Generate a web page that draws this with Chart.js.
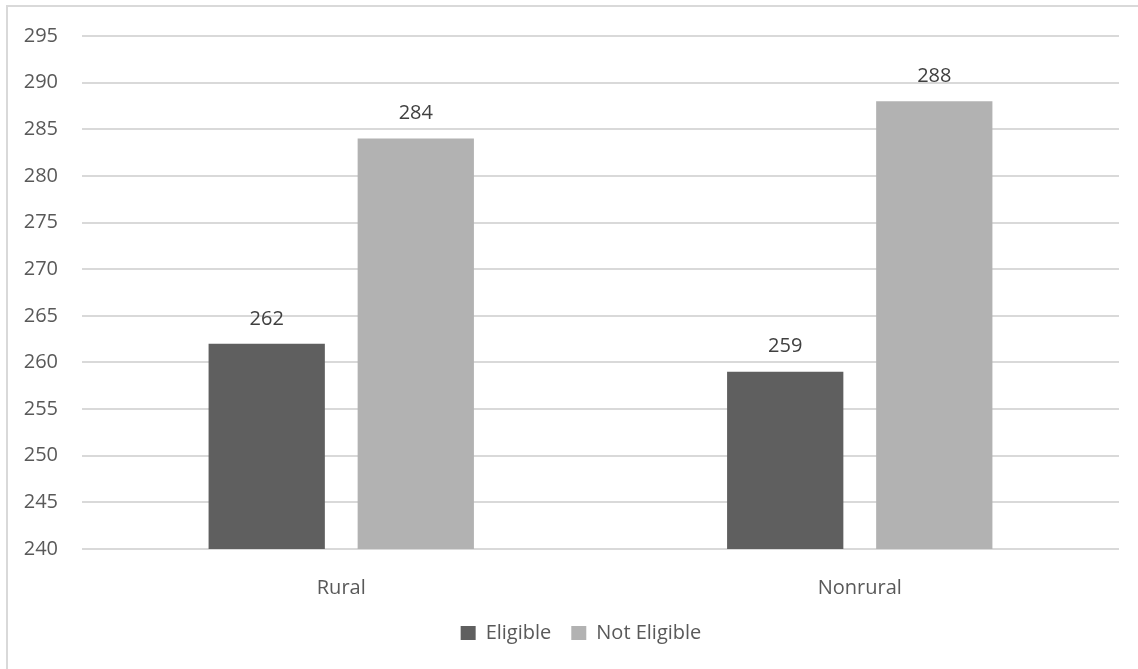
<!DOCTYPE html>
<html>
<head>
<meta charset="utf-8">
<script src="https://cdn.jsdelivr.net/npm/chart.js@4/dist/chart.umd.min.js"></script>
<style>
  html, body { margin: 0; padding: 0; background: #ffffff; }
  #wrap { width: 1138px; height: 669px; position: relative; }
</style>
</head>
<body>
<div id="wrap"><canvas id="chart" width="1138" height="669"></canvas></div>
<script>
// Categories and series values
const categories = ['Rural', 'Nonrural'];
const eligible = [262, 259];
const notEligible = [284, 288];
const seriesNames = ['Eligible', 'Not Eligible'];

// Y axis range
const yMin = 240;
const yMax = 295;
const yStep = 5;

const FONT = '"Open Sans", "Liberation Sans", sans-serif';
const FONT_SIZE = 20;

// Light frame around the chart area (left and top edges)
const framePlugin = {
  id: 'frame',
  beforeDraw(chart) {
    const ctx = chart.ctx;
    ctx.save();
    ctx.fillStyle = '#ffffff';
    ctx.fillRect(0, 0, chart.width, chart.height);
    ctx.strokeStyle = '#d9d9d9';
    ctx.lineWidth = 2;
    ctx.beginPath();
    ctx.moveTo(7, chart.height);
    ctx.lineTo(7, 6);
    ctx.lineTo(chart.width, 6);
    ctx.stroke();
    ctx.restore();
  }
};

// Center the legend under the plot area rather than the whole canvas
const legendShift = {
  id: 'legendShift',
  afterLayout(chart) {
    if (chart.legend) {
      chart.legend.left = chart.chartArea.left - 39;
    }
  }
};

// Value labels above each bar
const valueLabels = {
  id: 'valueLabels',
  afterDatasetsDraw(chart) {
    const ctx = chart.ctx;
    ctx.save();
    ctx.font = FONT_SIZE + 'px ' + FONT;
    ctx.fillStyle = '#404040';
    ctx.textAlign = 'center';
    ctx.textBaseline = 'middle';
    chart.data.datasets.forEach((ds, di) => {
      const meta = chart.getDatasetMeta(di);
      meta.data.forEach((bar, i) => {
        ctx.fillText(String(ds.data[i]), bar.x, bar.y - 25);
      });
    });
    ctx.restore();
  }
};

new Chart(document.getElementById('chart'), {
  type: 'bar',
  data: {
    labels: categories,
    datasets: [
      {
        label: seriesNames[0],
        data: eligible,
        backgroundColor: '#5f5f5f',
        categoryPercentage: 0.575,
        barPercentage: 0.78
      },
      {
        label: seriesNames[1],
        data: notEligible,
        backgroundColor: '#b2b2b2',
        categoryPercentage: 0.575,
        barPercentage: 0.78
      }
    ]
  },
  options: {
    responsive: false,
    animation: false,
    devicePixelRatio: 1,
    layout: { padding: { left: 0, right: 19, top: 34, bottom: 16 } },
    plugins: {
      legend: {
        position: 'bottom',
        labels: {
          font: { size: FONT_SIZE, family: FONT },
          color: '#595959',
          boxWidth: 15,
          boxHeight: 14,
          padding: 20
        }
      },
      tooltip: { enabled: false }
    },
    scales: {
      x: {
        grid: { display: false, drawTicks: false },
        border: { display: false },
        ticks: {
          font: { size: FONT_SIZE, family: FONT },
          color: '#595959',
          padding: 27
        },
        afterFit(scale) { scale.height = 54; }
      },
      y: {
        min: yMin,
        max: yMax,
        grid: { color: '#d9d9d9', lineWidth: 2, drawTicks: false },
        border: { display: false },
        ticks: {
          stepSize: yStep,
          font: { size: FONT_SIZE, family: FONT },
          color: '#595959',
          padding: 24
        },
        afterFit(scale) { scale.width = 82; }
      }
    }
  },
  plugins: [framePlugin, legendShift, valueLabels]
});
</script>
</body>
</html>
